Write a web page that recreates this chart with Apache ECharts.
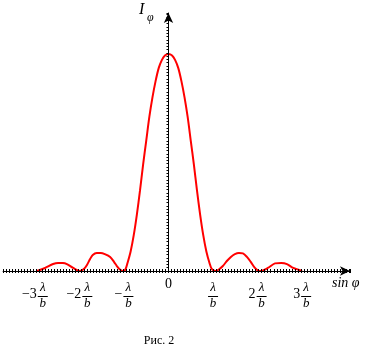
<!DOCTYPE html>
<html>
<head>
<meta charset="utf-8">
<script src="https://cdn.jsdelivr.net/npm/echarts@6/dist/echarts.min.js"></script>
<style>
html, body { margin: 0; padding: 0; background: #fff; }
#chart { width: 370px; height: 355px; }
</style>
</head>
<body>
<div id="chart"></div>
<script>
// sin(phi) in units of lambda/b, intensity relative to central maximum
var sinPhi = [-2.95, -2.77, -2.59, -2.48, -2.37, -2.28, -2.14, -1.99,
  -1.90, -1.83, -1.76, -1.70, -1.61, -1.52, -1.43, -1.31, -1.22, -1.16, -1.09, -1.02,
  -0.97, -0.92, -0.85, -0.78, -0.71, -0.64, -0.57, -0.50, -0.43, -0.36, -0.29, -0.22, -0.15, -0.08,
  0,
  0.08, 0.15, 0.22, 0.29, 0.36, 0.43, 0.50, 0.57, 0.64, 0.71, 0.78, 0.85, 0.92, 0.97, 1.055,
  1.13, 1.22, 1.31, 1.40, 1.49, 1.58, 1.67, 1.76, 1.85, 1.94, 2.01, 2.055,
  2.23, 2.39, 2.53, 2.66, 2.80, 3.00];
var intensity = [0, 0.014, 0.032, 0.037, 0.037, 0.032, 0.014, 0,
  0.009, 0.028, 0.055, 0.074, 0.083, 0.083, 0.078, 0.065, 0.041, 0.023, 0.007, 0,
  0.006, 0.037, 0.09, 0.165, 0.26, 0.37, 0.49, 0.60, 0.71, 0.80, 0.875, 0.935, 0.972, 0.993,
  1,
  0.993, 0.972, 0.935, 0.875, 0.80, 0.71, 0.60, 0.49, 0.37, 0.26, 0.165, 0.09, 0.037, 0.01, 0,
  0.007, 0.023, 0.046, 0.065, 0.078, 0.083, 0.081, 0.065, 0.041, 0.014, 0.002, 0,
  0.014, 0.035, 0.037, 0.032, 0.014, 0];

var tickValues = [-3, -2, -1, 0, 1, 2, 3];
var tickCoef = ['−3', '−2', '−', '0', '', '2', '3'];
var tickFraction = [true, true, true, false, true, true, true];

var serif = '"Liberation Serif", "DejaVu Serif", serif';
var chart = echarts.init(document.getElementById('chart'));

var points = [];
for (var i = 0; i < sinPhi.length; i++) points.push([sinPhi[i], intensity[i]]);

var xMin = -3.7125, xMax = 4.074, xStep = 0.0675;

var option = {
  animation: false,
  grid: { left: 3.1, right: 20, top: 13, bottom: 84 },
  xAxis: [
    {
      type: 'value', min: xMin, max: xMax, interval: xStep, z: 5,
      axisLine: { onZero: false, symbol: ['none', 'arrow'], symbolSize: [7, 10], lineStyle: { color: '#000', width: 1 } },
      axisTick: { show: true, length: 2, lineStyle: { color: '#000' } },
      axisLabel: { show: false },
      splitLine: { show: false }
    },
    {
      type: 'value', min: xMin, max: xMax, interval: xStep, position: 'bottom', z: 5,
      axisLine: { show: false },
      axisTick: { show: true, inside: true, length: 2, lineStyle: { color: '#000' } },
      axisLabel: { show: false },
      splitLine: { show: false }
    }
  ],
  yAxis: {
    type: 'value', min: 0, max: 1.189, interval: 0.015, z: 5,
    axisLine: { onZero: true, symbol: ['none', 'arrow'], symbolSize: [7, 10], lineStyle: { color: '#000', width: 1 } },
    axisTick: { show: true, length: 2, lineStyle: { color: '#000' } },
    axisLabel: { show: false },
    splitLine: { show: false }
  },
  series: [{
    type: 'line',
    data: points,
    smooth: 0.3,
    showSymbol: false,
    z: 1,
    lineStyle: { color: '#ff0000', width: 2 }
  }]
};
chart.setOption(option);

// tick labels like  -2 λ/b  drawn as text + fraction bar
var ctx = document.createElement('canvas').getContext('2d');
ctx.font = '14px ' + serif;
var els = [];
for (var k = 0; k < tickValues.length; k++) {
  var px = chart.convertToPixel({ xAxisIndex: 0 }, tickValues[k]);
  if (!tickFraction[k]) {
    els.push({ type: 'text', x: px, y: 284.6, style: { text: tickCoef[k], fontSize: 14, fontFamily: serif, fill: '#000', align: 'center', verticalAlign: 'middle' } });
    continue;
  }
  var cw = tickCoef[k] ? ctx.measureText(tickCoef[k]).width + 1 : 0;
  var fw = 10;
  var left = px - (cw + fw) / 2;
  if (tickCoef[k]) {
    els.push({ type: 'text', x: left + cw - 1, y: 294.6, style: { text: tickCoef[k], fontSize: 14, fontFamily: serif, fill: '#000', align: 'right', verticalAlign: 'middle' } });
  }
  els.push({ type: 'line', shape: { x1: left + cw, y1: 296.5, x2: left + cw + fw, y2: 296.5 }, style: { stroke: '#000', lineWidth: 1 } });
  els.push({ type: 'text', x: left + cw + fw / 2, y: 287.9, style: { text: 'λ', fontSize: 13, fontStyle: 'italic', fontFamily: serif, fill: '#000', align: 'center', verticalAlign: 'middle' } });
  els.push({ type: 'text', x: left + cw + fw / 2, y: 303.5, style: { text: 'b', fontSize: 13, fontStyle: 'italic', fontFamily: serif, fill: '#000', align: 'center', verticalAlign: 'middle' } });
}
els.push({ type: 'text', x: 139, y: 9.6, style: { text: 'I', fontSize: 16, fontStyle: 'italic', fontFamily: serif, fill: '#000', align: 'left', verticalAlign: 'middle' } });
els.push({ type: 'text', x: 147, y: 17.5, style: { text: 'φ', fontSize: 12, fontStyle: 'italic', fontFamily: serif, fill: '#000', align: 'left', verticalAlign: 'middle' } });
els.push({ type: 'text', x: 332, y: 283.2, style: { text: 'sin φ', fontSize: 14, fontStyle: 'italic', fontFamily: serif, fill: '#000', align: 'left', verticalAlign: 'middle' } });
els.push({ type: 'text', x: 159, y: 341, style: { text: 'Рис. 2', fontSize: 12, fontFamily: serif, fill: '#000', align: 'center', verticalAlign: 'middle' } });

chart.setOption({ graphic: { elements: els } });
</script>
</body>
</html>
